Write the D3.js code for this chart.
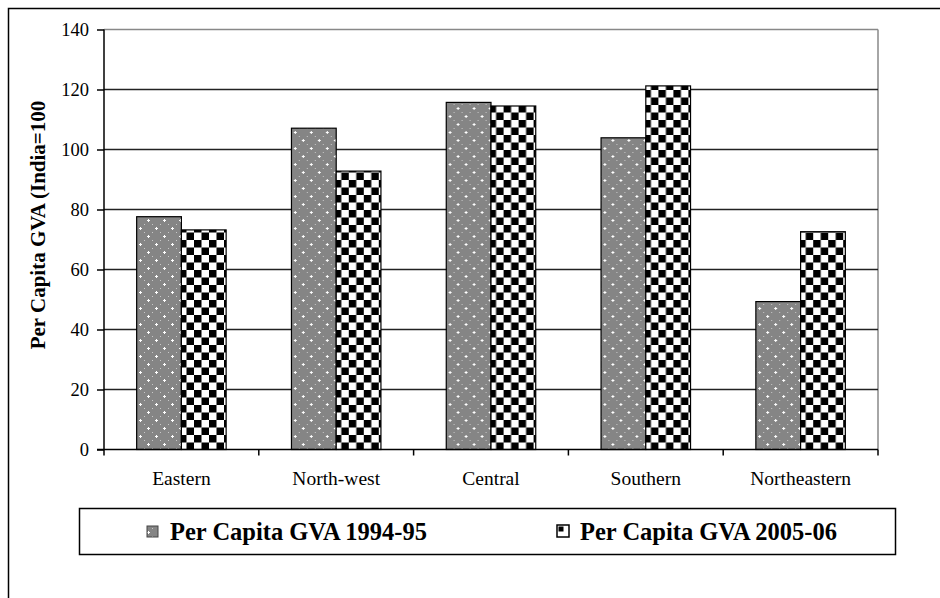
<!DOCTYPE html>
<html>
<head>
<meta charset="utf-8">
<script src="https://cdn.jsdelivr.net/npm/d3@7"></script>
<style>
  body { margin: 0; background: #fff; }
  svg { display: block; font-family: "Liberation Serif", "Times New Roman", serif; }
</style>
</head>
<body>
<div id="chart"></div>
<script>
// data
let regions = ['Eastern', 'North-west', 'Central', 'Southern', 'Northeastern'];
let series = ['Per Capita GVA 1994-95', 'Per Capita GVA 2005-06'];
let gva9495 = [77.6, 107.1, 115.7, 103.9, 49.3];
let gva0506 = [73.2, 92.8, 114.5, 121.2, 72.6];
let yTicks = [0, 20, 40, 60, 80, 100, 120, 140];

let width = 940,
  height = 598;

let svg = d3.select('#chart')
  .append('svg')
  .attr('width', width)
  .attr('height', height);

let defs = svg.append('defs');

// grey halftone with little white crosses (first series)
let p1 = defs.append('pattern')
  .attr('id', 'dots')
  .attr('patternUnits', 'userSpaceOnUse')
  .attr('width', 16)
  .attr('height', 16);
p1.append('rect').attr('width', 16).attr('height', 16).attr('fill', '#858585');
[[4, 4], [12, 12]].forEach(function (c) {
  p1.append('rect').attr('x', c[0] - 1).attr('y', c[1]).attr('width', 3).attr('height', 1).attr('fill', '#fff');
  p1.append('rect').attr('x', c[0]).attr('y', c[1] - 1).attr('width', 1).attr('height', 3).attr('fill', '#fff');
});
[[0, 0], [8, 8], [0, 8], [8, 0]].forEach(function (c) {
  p1.append('rect').attr('x', c[0]).attr('y', c[1]).attr('width', 1).attr('height', 1).attr('fill', '#c8c8c8');
});

// black and white checkerboard (second series)
let p2 = defs.append('pattern')
  .attr('id', 'checks')
  .attr('patternUnits', 'userSpaceOnUse')
  .attr('width', 15)
  .attr('height', 15);
p2.append('rect').attr('width', 15).attr('height', 15).attr('fill', '#fff');
p2.append('rect').attr('width', 7.5).attr('height', 7.5).attr('fill', '#000');
p2.append('rect').attr('x', 7.5).attr('y', 7.5).attr('width', 7.5).attr('height', 7.5).attr('fill', '#000');

let fills = ['url(#dots)', 'url(#checks)'];

// outer frame (cut off at right and bottom)
svg.append('rect')
  .attr('x', 8.5).attr('y', 8.5)
  .attr('width', 940).attr('height', 600)
  .attr('fill', 'none')
  .attr('stroke', '#000')
  .attr('stroke-width', 1.5);

let plotLeft = 104, plotRight = 878, plotTop = 29.5, plotBottom = 449.5;

let x0 = d3.scaleBand().domain(regions).range([plotLeft, plotRight]).padding(0);
let x1 = d3.scaleBand().domain(series).range([0, x0.bandwidth()]).paddingInner(0).paddingOuter(0.73);
let y = d3.scaleLinear().domain([0, 140]).range([plotBottom, plotTop]);

// plot area border (grey top and right)
svg.append('line')
  .attr('x1', plotLeft).attr('x2', plotRight).attr('y1', y(140)).attr('y2', y(140))
  .attr('stroke', '#888').attr('stroke-width', 1.5);
svg.append('line')
  .attr('x1', plotRight).attr('x2', plotRight).attr('y1', y(140)).attr('y2', y(0))
  .attr('stroke', '#888').attr('stroke-width', 1.5);

// gridlines
svg.append('g')
  .selectAll('line')
  .data(yTicks.filter(function (d) { return d > 0 && d < 140; }))
  .enter()
  .append('line')
  .attr('x1', plotLeft).attr('x2', plotRight)
  .attr('y1', function (d) { return y(d); })
  .attr('y2', function (d) { return y(d); })
  .attr('stroke', '#222')
  .attr('stroke-width', 1.5);

// bars
let vals = [gva9495, gva0506];
svg.append('g')
  .selectAll('g')
  .data(regions)
  .enter()
  .append('g')
  .attr('transform', function (d) { return 'translate(' + x0(d) + ',0)'; })
  .selectAll('rect')
  .data(function (d, i) {
    return series.map(function (s, k) { return { s: s, v: vals[k][i], k: k }; });
  })
  .enter()
  .append('rect')
  .attr('x', function (d) { return x1(d.s); })
  .attr('y', function (d) { return y(d.v); })
  .attr('width', x1.bandwidth())
  .attr('height', function (d) { return y(0) - y(d.v); })
  .attr('fill', function (d) { return fills[d.k]; })
  .attr('stroke', '#000')
  .attr('stroke-width', 1.2);

// y axis
let yAxis = d3.axisLeft(y).tickValues(yTicks).tickSize(7).tickPadding(8);
let gy = svg.append('g')
  .attr('transform', 'translate(' + plotLeft + ',0)')
  .call(yAxis);
gy.select('.domain').remove();
gy.append('line').attr('x1', 0).attr('x2', 0).attr('y1', y(140)).attr('y2', y(0))
  .attr('stroke', '#000').attr('stroke-width', 1.5);
gy.selectAll('.tick line').attr('stroke', '#000').attr('stroke-width', 1.5);
gy.selectAll('.tick text')
  .attr('fill', '#000')
  .style('font-size', '18.5px')
  .style('font-family', '"Liberation Serif", serif');

// x axis
let xAxis = d3.axisBottom(x0).tickSize(0).tickPadding(22);
let gx = svg.append('g')
  .attr('transform', 'translate(0,' + plotBottom + ')')
  .call(xAxis);
gx.select('.domain').remove();
gx.append('line').attr('x1', plotLeft - 7).attr('x2', plotRight).attr('y1', 0).attr('y2', 0)
  .attr('stroke', '#000').attr('stroke-width', 1.5);
gx.selectAll('.tick text')
  .attr('fill', '#000')
  .style('font-size', '19.5px')
  .style('font-family', '"Liberation Serif", serif');
// tick marks between categories
gx.append('g')
  .selectAll('line')
  .data(regions.concat(['end']))
  .enter()
  .append('line')
  .attr('x1', function (d, i) { return plotLeft + i * x0.step(); })
  .attr('x2', function (d, i) { return plotLeft + i * x0.step(); })
  .attr('y1', 0).attr('y2', 6)
  .attr('stroke', '#000').attr('stroke-width', 1.5);

// y axis title
svg.append('text')
  .attr('transform', 'translate(45,225) rotate(-90)')
  .attr('text-anchor', 'middle')
  .style('font-size', '21px')
  .style('font-weight', 'bold')
  .text('Per Capita GVA (India=100');

// legend
let lg = svg.append('g');
lg.append('rect')
  .attr('x', 79.5).attr('y', 508.5)
  .attr('width', 816).attr('height', 46)
  .attr('fill', '#fff')
  .attr('stroke', '#000')
  .attr('stroke-width', 1.5);

let legendX = [147, 557];
// small swatch patterns
lg.append('rect')
  .attr('x', legendX[0]).attr('y', 526).attr('width', 11).attr('height', 11)
  .attr('fill', 'url(#dots)').attr('stroke', '#444').attr('stroke-width', 1);
lg.append('rect')
  .attr('x', legendX[1]).attr('y', 525).attr('width', 12).attr('height', 12)
  .attr('fill', '#fff').attr('stroke', '#000').attr('stroke-width', 1.5);
lg.append('rect')
  .attr('x', legendX[1] + 1.5).attr('y', 526.5).attr('width', 5).attr('height', 5)
  .attr('fill', '#000');

lg.selectAll('text.leg')
  .data(series)
  .enter()
  .append('text')
  .attr('class', 'leg')
  .attr('x', function (d, i) { return legendX[i] + 23; })
  .attr('y', 540)
  .style('font-size', '24.5px')
  .style('font-weight', 'bold')
  .text(function (d) { return d; });
</script>
</body>
</html>
